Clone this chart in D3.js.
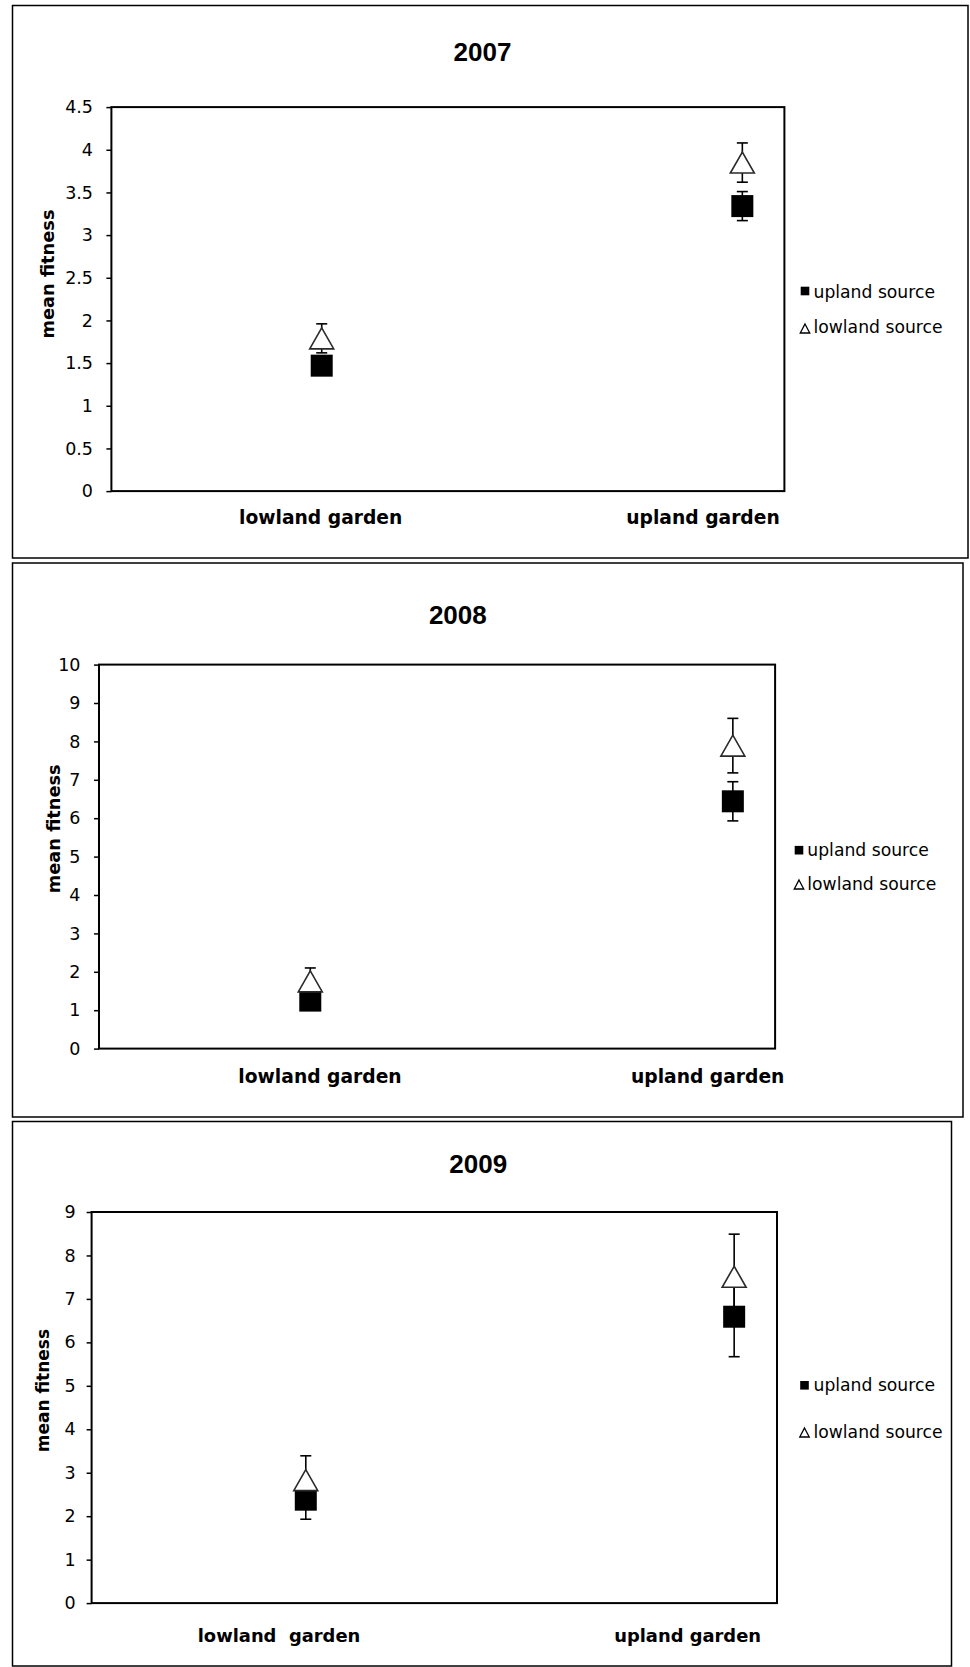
<!DOCTYPE html>
<html>
<head>
<meta charset="utf-8">
<script src="https://cdn.jsdelivr.net/npm/d3@7/dist/d3.min.js"></script>
<style>
  html, body { margin: 0; padding: 0; background: #fff; }
  svg { display: block; }
  text { font-family: "DejaVu Sans", Verdana, sans-serif; fill: #000; }
</style>
</head>
<body>
<svg id="chart" width="970" height="1667"></svg>
<script>
// ---- data -------------------------------------------------------------
const years = ["2007", "2008", "2009"];
const gardenLabels = [
  ["lowland garden", "upland garden"],
  ["lowland garden", "upland garden"],
  ["lowland  garden", "upland garden"]
];
const gardenX = [1, 3];          // position of each garden on the x axis
const xDomain = [0, 3.2];
const yMax = [4.5, 10, 9];
const yTicks = [
  [0, 0.5, 1, 1.5, 2, 2.5, 3, 3.5, 4, 4.5],
  [0, 1, 2, 3, 4, 5, 6, 7, 8, 9, 10],
  [0, 1, 2, 3, 4, 5, 6, 7, 8, 9]
];
const seriesNames = ["upland source", "lowland source"];
// mean fitness per garden [lowland, upland], one row per year
const uplandMean  = [[1.47, 3.34], [1.25, 6.44], [2.38, 6.59]];
const uplandSE    = [[0.10, 0.17], [0.20, 0.51], [0.45, 0.92]];
const lowlandMean = [[1.79, 3.85], [1.75, 7.89], [2.83, 7.51]];
const lowlandSE   = [[0.17, 0.23], [0.35, 0.71], [0.56, 0.98]];

// ---- layout of the three framed panels --------------------------------
const layout = [
  { box: [12.5, 5.5, 955.5, 552.5], plot: { l: 111.4, r: 784.4, t: 107.1, b: 491.1 },
    title: [482.5, 60.5], yTitle: [53.5, 274], yTitleSize: 17.8, tickPad: 13.4,
    xLab: { y: 524, x: [320.7, 703], size: 18.7 },
    legend: { mx: 805, tx: 813.5, cy: [291, 328.5], base: [298.3, 333.3] } },
  { box: [12.5, 563, 950.5, 554], plot: { l: 99, r: 775.1, t: 664.6, b: 1048.6 },
    title: [457.8, 623.5], yTitle: [59.5, 828.8], yTitleSize: 17.8, tickPad: 13.6,
    xLab: { y: 1083, x: [320, 707.7], size: 18.7 },
    legend: { mx: 799, tx: 807.3, cy: [850.2, 884.5], base: [855.5, 890] } },
  { box: [12.5, 1121.5, 939, 544.5], plot: { l: 91.6, r: 777, t: 1212, b: 1603.1 },
    title: [478.2, 1172.5], yTitle: [49, 1390.6], yTitleSize: 17, tickPad: 11,
    xLab: { y: 1642, x: [279, 687.6], size: 17.9 },
    legend: { mx: 804.5, tx: 813.5, cy: [1385.3, 1432.5], base: [1391, 1437.5] } }
];

const svg = d3.select("#chart");
const fmt = d => String(d);
const triPath = (w, h) => `M0,${-h / 2}L${w / 2},${h / 2}L${-w / 2},${h / 2}Z`;

years.forEach((year, p) => {
  const L = layout[p];
  const g = svg.append("g");

  // panel frame
  g.append("rect")
    .attr("x", L.box[0]).attr("y", L.box[1])
    .attr("width", L.box[2]).attr("height", L.box[3])
    .attr("fill", "none").attr("stroke", "#000").attr("stroke-width", 1.5);

  const x = d3.scaleLinear().domain(xDomain).range([L.plot.l, L.plot.r]);
  const y = d3.scaleLinear().domain([0, yMax[p]]).range([L.plot.b, L.plot.t]);

  // title
  g.append("text")
    .attr("x", L.title[0]).attr("y", L.title[1])
    .attr("text-anchor", "middle")
    .style("font-family", "'Liberation Sans', Arial, sans-serif")
    .style("font-weight", "bold").style("font-size", "26px")
    .text(year);

  // y axis
  const yAxis = d3.axisLeft(y).tickValues(yTicks[p]).tickFormat(fmt)
    .tickSize(5).tickPadding(L.tickPad);
  const ya = g.append("g").attr("transform", `translate(${L.plot.l},0)`).call(yAxis);
  ya.select(".domain").remove();
  ya.selectAll(".tick line").attr("stroke", "#000").attr("stroke-width", 1.5);
  ya.selectAll(".tick text")
    .style("font-family", "'DejaVu Sans', Verdana, sans-serif")
    .style("font-size", "17.5px").attr("fill", "#000");

  // plot frame
  g.append("rect")
    .attr("x", L.plot.l).attr("y", L.plot.t)
    .attr("width", L.plot.r - L.plot.l).attr("height", L.plot.b - L.plot.t)
    .attr("fill", "none").attr("stroke", "#000").attr("stroke-width", 2);

  // y axis title
  g.append("text")
    .attr("transform", `translate(${L.yTitle[0]},${L.yTitle[1]}) rotate(-90)`)
    .attr("text-anchor", "middle")
    .style("font-weight", "bold").style("font-size", L.yTitleSize + "px")
    .text("mean fitness");

  // garden labels
  gardenLabels[p].forEach((lab, i) => {
    g.append("text")
      .attr("x", L.xLab.x[i]).attr("y", L.xLab.y)
      .attr("text-anchor", "middle")
      .attr("xml:space", "preserve").style("white-space", "pre")
      .style("font-weight", "bold").style("font-size", L.xLab.size + "px")
      .text(lab);
  });

  const series = [
    { mean: uplandMean[p], se: uplandSE[p], shape: "square" },
    { mean: lowlandMean[p], se: lowlandSE[p], shape: "triangle" }
  ];

  // error bars (beneath the markers)
  const capW = 11;
  series.forEach(s => {
    s.mean.forEach((m, i) => {
      const cx = x(gardenX[i]);
      const lo = y(m - s.se[i]), hi = y(m + s.se[i]);
      const eb = g.append("g").attr("stroke", "#000").attr("stroke-width", 1.6);
      eb.append("line").attr("x1", cx).attr("x2", cx).attr("y1", lo).attr("y2", hi);
      eb.append("line").attr("x1", cx - capW / 2).attr("x2", cx + capW / 2).attr("y1", lo).attr("y2", lo);
      eb.append("line").attr("x1", cx - capW / 2).attr("x2", cx + capW / 2).attr("y1", hi).attr("y2", hi);
    });
  });

  // markers
  const sq = 22;
  series[0].mean.forEach((m, i) => {
    g.append("rect")
      .attr("x", x(gardenX[i]) - sq / 2).attr("y", y(m) - sq / 2)
      .attr("width", sq).attr("height", sq).attr("fill", "#000");
  });
  series[1].mean.forEach((m, i) => {
    g.append("path")
      .attr("transform", `translate(${x(gardenX[i])},${y(m)})`)
      .attr("d", triPath(24, 21))
      .attr("fill", "#fff").attr("stroke", "#2a2a2a").attr("stroke-width", 1.6)
      .attr("stroke-linejoin", "miter");
  });

  // legend
  const lg = g.append("g");
  lg.append("rect")
    .attr("x", L.legend.mx - 4.3).attr("y", L.legend.cy[0] - 4.3)
    .attr("width", 8.6).attr("height", 8.6).attr("fill", "#000");
  lg.append("path")
    .attr("transform", `translate(${L.legend.mx},${L.legend.cy[1]})`)
    .attr("d", triPath(9.5, 9))
    .attr("fill", "#fff").attr("stroke", "#000").attr("stroke-width", 1.3);
  seriesNames.forEach((name, k) => {
    lg.append("text")
      .attr("x", L.legend.tx).attr("y", L.legend.base[k])
      .style("font-size", "17.2px")
      .text(name);
  });
});
</script>
</body>
</html>
